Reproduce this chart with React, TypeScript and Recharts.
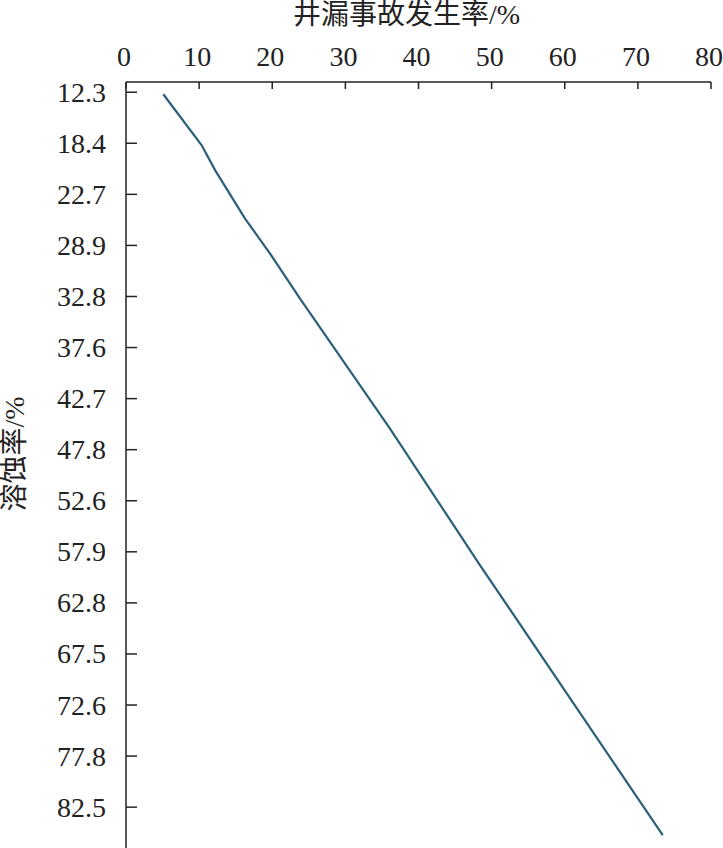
import { LineChart, Line, XAxis, YAxis } from "recharts";

// y axis categories (溶蚀率/%), drawn evenly spaced top to bottom
const erosionLabels = [
  "12.3", "18.4", "22.7", "28.9", "32.8", "37.6", "42.7", "47.8",
  "52.6", "57.9", "62.8", "67.5", "72.6", "77.8", "82.5",
];
const erosionTicks = erosionLabels.map((_, i) => i);

// line points: position along the category axis and leakage rate
const erosionPos = [0.04, 1.04, 1.53, 2.48, 3.16, 4.04, 6.59, 9.26, 14.55];
const leakRate = [5.1, 10.35, 12.2, 16.3, 19.7, 23.8, 36.1, 48.4, 73.4];

const rateTicks = [0, 10, 20, 30, 40, 50, 60, 70, 80];

const data = erosionPos.map((pos, i) => ({ pos, rate: leakRate[i] }));

const font = '"Liberation Serif", "Noto Sans CJK SC", serif';
const ink = "#222";

const X_MARGIN = 16;
const Y_MARGIN = 20;

// ticks point into the plot, so the tick mark is drawn here with the label
function TopTick(props: any) {
  const { x, y, payload } = props;
  const axisY = y + X_MARGIN;
  return (
    <g>
      <line x1={x} x2={x} y1={axisY} y2={axisY + 7} stroke={ink} strokeWidth={1.5} />
      <text x={x - 2} y={y} textAnchor="middle" fontSize={28} fill={ink} fontFamily={font}>
        {payload.value}
      </text>
    </g>
  );
}

function LeftTick(props: any) {
  const { x, y, payload } = props;
  const axisX = x + Y_MARGIN;
  return (
    <g>
      <line x1={axisX} x2={axisX + 11} y1={y} y2={y} stroke={ink} strokeWidth={1.5} />
      <text x={x} y={y + 9.5} textAnchor="end" fontSize={28} fill={ink} fontFamily={font}>
        {erosionLabels[payload.value] ?? ""}
      </text>
    </g>
  );
}

export default function App() {
  return (
    <div style={{ position: "absolute", left: 0, top: 0, background: "#fff" }}>
      <LineChart
        width={723}
        height={848}
        data={data}
        layout="vertical"
        margin={{ top: 0, right: 12, bottom: 0, left: 0 }}
      >
        <XAxis
          type="number"
          dataKey="rate"
          orientation="top"
          domain={[0, 80]}
          ticks={rateTicks}
          height={82}
          stroke={ink}
          strokeWidth={1.5}
          tickLine={false}
          tickSize={0}
          tickMargin={X_MARGIN}
          tick={<TopTick />}
          label={{
            value: "井漏事故发生率/%",
            position: "insideTop",
            offset: 4,
            dx: -12,
            style: { fontSize: 28, fill: ink, fontFamily: font },
          }}
        />
        <YAxis
          type="number"
          dataKey="pos"
          domain={[-0.2, 14.8]}
          allowDataOverflow
          ticks={erosionTicks}
          width={126}
          stroke={ink}
          strokeWidth={1.5}
          tickLine={false}
          tickSize={0}
          tickMargin={Y_MARGIN}
          tick={<LeftTick />}
          label={{
            value: "溶蚀率/%",
            angle: -90,
            position: "center",
            dx: -49,
            dy: -11,
            style: { fontSize: 28, fill: ink, fontFamily: font, textAnchor: "middle" },
          }}
        />
        <Line
          dataKey="rate"
          stroke="#2b5f7a"
          strokeWidth={2.2}
          dot={false}
          isAnimationActive={false}
          type="linear"
        />
      </LineChart>
    </div>
  );
}
